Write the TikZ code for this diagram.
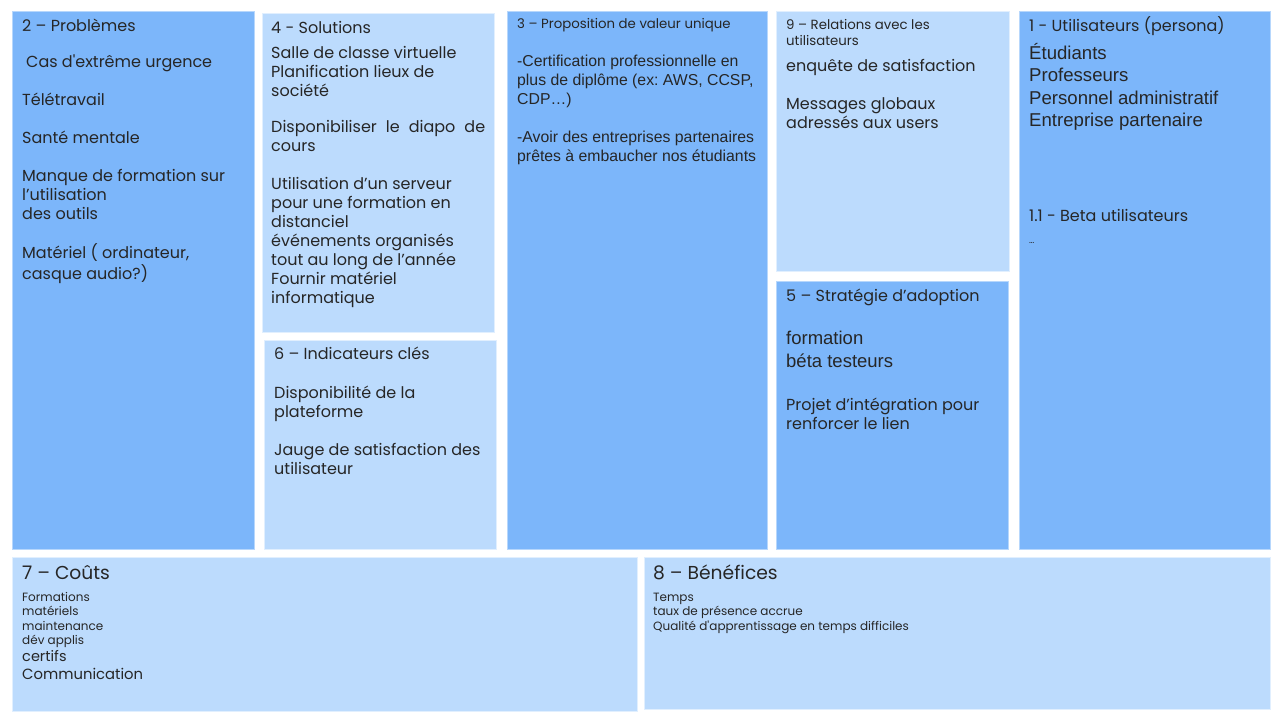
\documentclass[tikz,border=0pt]{standalone}
\usepackage{fontspec}
\setmainfont{Poppins}
\newfontfamily\arialfont{Liberation Sans}
\usepackage{xcolor}
\definecolor{darkblue}{RGB}{124,182,250}
\definecolor{paleblue}{RGB}{188,219,253}
\frenchspacing
\newcommand{\boxlines}[1]{\begin{tabular}[t]{@{}l@{}}#1\end{tabular}}
\tikzset{%
    darkbox/.style={fill=darkblue, draw=darkblue!55!white, line width=0.8pt},
    palebox/.style={fill=paleblue, draw=paleblue!45!white, line width=0.8pt},
    txt/.style={anchor=base west, inner sep=0pt, text=black!85},
    big/.style={txt, font=\fontsize{16}{19}\selectfont},
    small/.style={txt, font=\fontsize{12}{14.5}\selectfont}
}

\begin{document}
\begin{tikzpicture}[x=1pt,y=-1pt]
\useasboundingbox (0,0) rectangle (1280,720);

\draw[darkbox] (12,11) rectangle (254,549);
\draw[palebox] (262,13) rectangle (494,332);
\draw[palebox] (264,340) rectangle (496,549);
\draw[darkbox] (507,11) rectangle (767,549);
\draw[palebox] (776,11) rectangle (1009,271);
\draw[darkbox] (776,281) rectangle (1008,549);
\draw[darkbox] (1019,11) rectangle (1270,549);
\draw[palebox] (12,557) rectangle (637,711);
\draw[palebox] (644,557) rectangle (1270,709);

\node[big] (probT) at (22,31) {2 – Problèmes};
\node[big] (probL) at (22,67) {\boxlines{\hspace{4pt}Cas d\textquotesingle extrême urgence\\[19pt]
    Télétravail\\[19pt] Santé mentale\\[19pt]
    Manque de formation sur\\ l’utilisation\\ des outils\\[19pt]
    Matériel ( ordinateur,\\ casque audio?)}};

\node[big] (solT) at (271,33) {4 - Solutions};
\node[big] (solL) at (271,58) {\boxlines{Salle de classe virtuelle\\
    Planification lieux de\\ société\\[17pt]
    \makebox[214pt][s]{Disponibiliser le diapo de}\\ cours\\[19pt]
    Utilisation d’un serveur\\ pour une formation en\\ distanciel\\
    événements organisés\\ tout au long de l’année\\
    Fournir matériel\\ informatique}};

\node[big] (indT) at (274,359) {6 – Indicateurs clés};
\node[big] (indL) at (274,398) {\boxlines{Disponibilité de la\\ plateforme\\[19pt]
    Jauge de satisfaction des\\ utilisateur}};

\node[txt, font=\fontsize{13.3}{16}\selectfont] (valT) at (517,28) {3 – Proposition de valeur unique};
\node[txt, font=\arialfont\fontsize{15.8}{19}\selectfont] (valL) at (517,66)
    {\boxlines{-Certification professionnelle en\\ plus de diplôme (ex: AWS, CCSP,\\ CDP…)\\[19pt]
    -Avoir des entreprises partenaires\\ prêtes à embaucher nos étudiants}};

\node[txt, font=\fontsize{13.3}{16.5}\selectfont] (relT) at (786,29) {\boxlines{9 – Relations avec les\\ utilisateurs}};
\node[big] (relL) at (786,71) {\boxlines{enquête de satisfaction\\[19pt]
    Messages globaux\\ adressés aux users}};

\node[big] (adoT) at (786,301) {5 – Stratégie d’adoption};
\node[txt, font=\arialfont\fontsize{18.5}{22.5}\selectfont] (adoA) at (786,344.5) {\boxlines{formation\\ béta testeurs}};
\node[big] (adoL) at (786,410) {\boxlines{Projet d’intégration pour\\ renforcer le lien}};

\node[big] (userT) at (1029,31) {1 - Utilisateurs (persona)};
\node[txt, font=\arialfont\fontsize{18.6}{22.6}\selectfont] (userL) at (1029,59)
    {\boxlines{Étudiants\\ Professeurs\\ Personnel administratif\\ Entreprise partenaire}};
\node[big] (betaT) at (1029,221) {1.1 - Beta utilisateurs};
\node[txt, font=\fontsize{9}{10}\selectfont] (betaL) at (1029,243) {…};

\node[txt, font=\fontsize{18.7}{22}\selectfont] (coutT) at (22,579) {7 – Coûts};
\node[small] (coutL) at (22,601) {\boxlines{Formations\\ matériels\\ maintenance\\ dév applis}};
\node[txt, font=\fontsize{14.5}{16}\selectfont] (coutC) at (22,661) {certifs};
\node[txt, font=\fontsize{14.8}{18}\selectfont] (coutM) at (22,679) {Communication};

\node[txt, font=\fontsize{18.7}{22}\selectfont] (beneT) at (653,579) {8 – Bénéfices};
\node[small] (beneL) at (653,601) {\boxlines{Temps\\ taux de présence accrue\\
    Qualité d\textquotesingle apprentissage en temps difficiles}};
\end{tikzpicture}
\end{document}
